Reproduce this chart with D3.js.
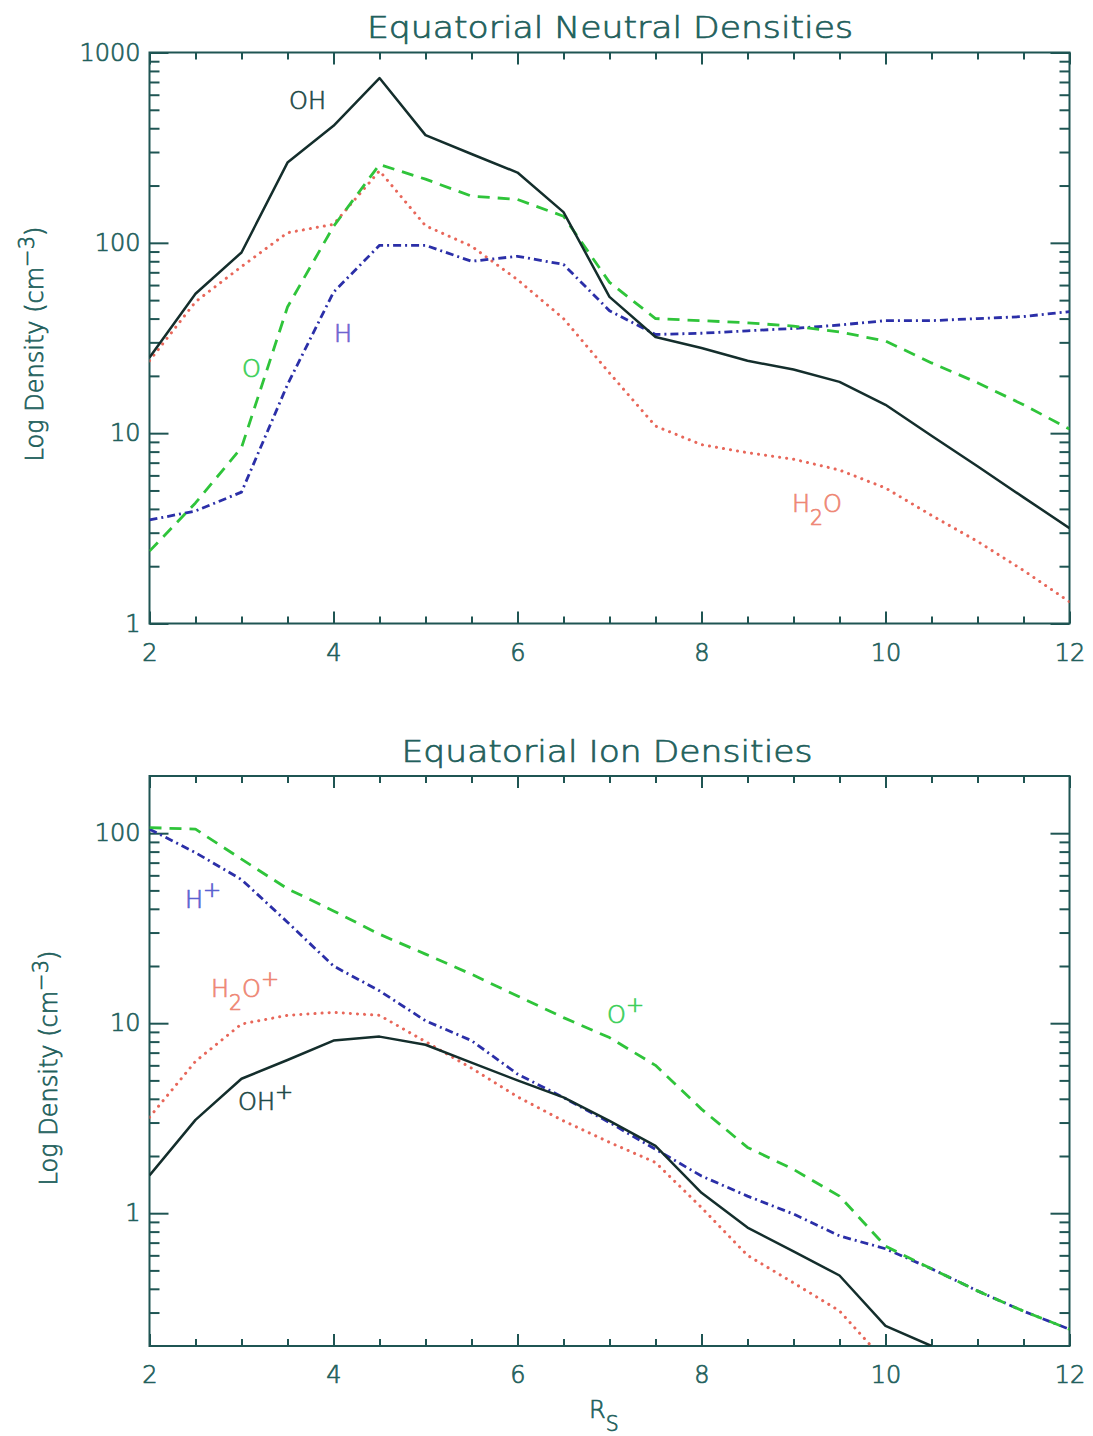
<!DOCTYPE html>
<html>
<head>
<meta charset="utf-8">
<script src="https://cdn.jsdelivr.net/npm/d3@7"></script>
<style>
  html, body { margin: 0; padding: 0; background: #fff; }
  svg { display: block; }
  text { font-family: "DejaVu Sans", "Liberation Sans", sans-serif; font-weight: 200; }
</style>
</head>
<body>
<svg id="chart" width="1093" height="1436"></svg>
<script>
// ---------------- DATA ----------------
const radius = [2, 2.5, 3, 3.5, 4, 4.5, 5, 5.5, 6, 6.5, 7, 7.5, 8, 8.5, 9, 9.5, 10, 10.5, 11, 11.5, 12];
const xTicks = [2, 4, 6, 8, 10, 12];

// Equatorial neutral densities (cm^-3)
const neutralOH  = [25, 54, 89, 264, 412, 734, 368, 293, 234, 145, 52, 32, 28, 24, 21.6, 18.6, 14.1, 9.7, 6.7, 4.6, 3.17];
const neutralO   = [2.4, 4.3, 8.4, 46, 122, 258, 216, 176, 169, 138, 62, 40, 39, 38, 36.5, 34, 30.5, 23.4, 18.4, 14.1, 10.5];
const neutralH   = [3.5, 3.9, 4.9, 18, 55, 97, 97, 80, 85, 77, 44, 33, 33.5, 34.5, 35.5, 37, 39, 39, 40, 41, 43.5];
const neutralH2O = [24, 49, 75, 113, 125, 239, 123, 96, 64, 40, 20.7, 10.9, 8.7, 7.9, 7.3, 6.4, 5.15, 3.7, 2.7, 1.9, 1.3];
const neutralYTicks = [1, 10, 100, 1000];

// Equatorial ion densities (cm^-3)
const ionOHp  = [1.58, 3.1, 5.1, 6.4, 8.1, 8.5, 7.7, 6.2, 5.0, 4.07, 3.06, 2.26, 1.28, 0.84, 0.63, 0.47, 0.255, 0.2];
const ionH2Op = [3.2, 6.3, 9.9, 11.0, 11.4, 11.0, 8.0, 5.8, 4.1, 3.06, 2.36, 1.85, 1.07, 0.6, 0.43, 0.306, 0.165];
const ionHp   = [105, 79, 57, 34, 20, 14.8, 10.3, 8.1, 5.4, 4.06, 3.0, 2.17, 1.57, 1.23, 0.99, 0.76, 0.65, 0.51, 0.39, 0.305, 0.245];
const ionOp   = [107, 105, 73, 51, 39, 29.4, 23.1, 18.1, 13.9, 10.7, 8.4, 6.0, 3.53, 2.22, 1.7, 1.23, 0.67, 0.51, 0.39, 0.305, 0.245];
const ionYTicks = [1, 10, 100];

// ---------------- STYLE ----------------
const AXIS = "#1f5553";
const TEXT = "#22605c";
const STY = {
  black: { color: "#142e2c", dash: null, width: 2.5, cap: "butt" },
  green: { color: "#2fc43a", dash: "12,8", width: 2.8, cap: "butt" },
  blue:  { color: "#2b2fa8", dash: "8,4,2,4", width: 2.8, cap: "butt" },
  red:   { color: "#e8675a", dash: "0.1,7", width: 3, cap: "round" }
};

const svg = d3.select("#chart");
const plotLeft = 149.5, plotRight = 1069.5;

function addLabel(g, x, y, parts, color, size) {
  const t = g.append("text").attr("x", x).attr("y", y)
    .attr("fill", color).attr("font-size", size);
  let shift = 0;
  parts.forEach(p => {
    const [txt, kind] = p;
    let target = 0, fs = size;
    if (kind === "sub") { target = 13; fs = size * 0.85; }
    if (kind === "sup") { target = -11; fs = size * 0.9; }
    t.append("tspan").attr("dy", target - shift).attr("font-size", fs).text(txt);
    shift = target;
  });
  return t;
}

function panel(cfg) {
  const g = svg.append("g");
  const x = d3.scaleLinear().domain([2, 12]).range([plotLeft, plotRight]);
  const y = d3.scaleLog().domain(cfg.yDomain).range([cfg.bottom, cfg.top]);

  const clipId = "clip" + cfg.id;
  svg.append("clipPath").attr("id", clipId).append("rect")
    .attr("x", plotLeft).attr("y", cfg.top).attr("width", plotRight - plotLeft).attr("height", cfg.bottom - cfg.top);

  const xMinor = d3.range(2, 12.001, 0.5).filter(v => !xTicks.includes(v));
  const yMinor = [];
  const [lo, hi] = cfg.yDomain;
  for (let e = Math.floor(Math.log10(lo)); e <= Math.ceil(Math.log10(hi)); e++) {
    for (let k = 2; k <= 9; k++) {
      const v = k * Math.pow(10, e);
      if (v > lo * 1.0001 && v < hi * 0.9999) yMinor.push(v);
    }
  }

  const styleAxis = sel => {
    sel.select(".domain").remove();
    sel.selectAll("line").attr("stroke", AXIS).attr("stroke-width", 2);
    sel.selectAll("text").attr("fill", TEXT).attr("font-size", 24)
      .attr("font-family", "DejaVu Sans, sans-serif").attr("font-weight", 200);
  };

  g.append("g").attr("transform", `translate(0,${cfg.bottom})`)
    .call(d3.axisBottom(x).tickValues(xTicks).tickSize(-12).tickPadding(20).tickFormat(d3.format("d")))
    .call(styleAxis);
  g.append("g").attr("transform", `translate(0,${cfg.bottom})`)
    .call(d3.axisBottom(x).tickValues(xMinor).tickSize(-7).tickFormat(""))
    .call(styleAxis);
  g.append("g").attr("transform", `translate(0,${cfg.top})`)
    .call(d3.axisTop(x).tickValues(xTicks).tickSize(-12).tickFormat(""))
    .call(styleAxis);
  g.append("g").attr("transform", `translate(0,${cfg.top})`)
    .call(d3.axisTop(x).tickValues(xMinor).tickSize(-7).tickFormat(""))
    .call(styleAxis);
  g.append("g").attr("transform", `translate(${plotLeft},0)`)
    .call(d3.axisLeft(y).tickValues(cfg.yTicks).tickSize(-19).tickPadding(9).tickFormat(d3.format("d")))
    .call(styleAxis);
  g.append("g").attr("transform", `translate(${plotLeft},0)`)
    .call(d3.axisLeft(y).tickValues(yMinor).tickSize(-10).tickFormat(""))
    .call(styleAxis);
  g.append("g").attr("transform", `translate(${plotRight},0)`)
    .call(d3.axisRight(y).tickValues(cfg.yTicks).tickSize(-19).tickFormat(""))
    .call(styleAxis);
  g.append("g").attr("transform", `translate(${plotRight},0)`)
    .call(d3.axisRight(y).tickValues(yMinor).tickSize(-10).tickFormat(""))
    .call(styleAxis);

  g.append("rect").attr("x", plotLeft).attr("y", cfg.top)
    .attr("width", plotRight - plotLeft).attr("height", cfg.bottom - cfg.top)
    .attr("fill", "none").attr("stroke", AXIS).attr("stroke-width", 2);

  const line = d3.line().x((d, i) => x(radius[i])).y(d => y(d));
  const lg = g.append("g").attr("clip-path", `url(#${clipId})`);
  cfg.series.forEach(s => {
    const st = STY[s.style];
    lg.append("path").datum(s.values).attr("d", line)
      .attr("fill", "none").attr("stroke", st.color).attr("stroke-width", st.width)
      .attr("stroke-dasharray", st.dash).attr("stroke-linecap", st.cap)
      .attr("stroke-linejoin", "round");
  });

  g.append("text").attr("x", cfg.titleX).attr("y", cfg.titleY)
    .attr("text-anchor", "middle").attr("fill", TEXT).attr("font-size", 30)
    .attr("textLength", cfg.titleLen).attr("lengthAdjust", "spacingAndGlyphs")
    .text(cfg.title);

  const yl = g.append("text").attr("transform", `translate(${cfg.ylabX},${cfg.ylabY}) rotate(-90)`)
    .attr("text-anchor", "middle").attr("fill", TEXT).attr("font-size", 24);
  yl.append("tspan").text("Log Density (cm");
  yl.append("tspan").attr("dy", -9).attr("font-size", 21).text("\u22123");
  yl.append("tspan").attr("dy", 9).text(")");

  return g;
}

const topPanel = panel({
  id: 1, yDomain: [1, 1000], top: 52.5, bottom: 623.5, yTicks: neutralYTicks,
  title: "Equatorial Neutral Densities", titleX: 610, titleY: 38, titleLen: 486,
  ylabX: 43, ylabY: 344,
  series: [
    { values: neutralH2O, style: "red" },
    { values: neutralH, style: "blue" },
    { values: neutralO, style: "green" },
    { values: neutralOH, style: "black" }
  ]
});
addLabel(topPanel, 289, 109, [["OH", "n"]], "#1f4a48", 24);
addLabel(topPanel, 242, 377, [["O", "n"]], "#3ccf5a", 24);
addLabel(topPanel, 334, 342, [["H", "n"]], "#6f63cf", 24);
addLabel(topPanel, 792, 512, [["H", "n"], ["2", "sub"], ["O", "n"]], "#ee8674", 24);

const botPanel = panel({
  id: 2, yDomain: [0.2, 200], top: 776, bottom: 1346, yTicks: ionYTicks,
  title: "Equatorial Ion Densities", titleX: 607, titleY: 762, titleLen: 411,
  ylabX: 57, ylabY: 1068,
  series: [
    { values: ionH2Op, style: "red" },
    { values: ionHp, style: "blue" },
    { values: ionOp, style: "green" },
    { values: ionOHp, style: "black" }
  ]
});
addLabel(botPanel, 185, 908, [["H", "n"], ["+", "sup"]], "#5a62d0", 24);
addLabel(botPanel, 211, 997, [["H", "n"], ["2", "sub"], ["O", "n"], ["+", "sup"]], "#ee8674", 24);
addLabel(botPanel, 607, 1023, [["O", "n"], ["+", "sup"]], "#3ccf5a", 24);
addLabel(botPanel, 238, 1110, [["OH", "n"], ["+", "sup"]], "#1f4a48", 24);

addLabel(svg, 589, 1418, [["R", "n"], ["S", "sub"]], TEXT, 24);

// give the thin glyphs a slightly heavier, plotter-like stroke
svg.selectAll("text").each(function () {
  const t = d3.select(this);
  t.attr("stroke", t.attr("fill")).attr("stroke-width", 0.7);
});
</script>
</body>
</html>
